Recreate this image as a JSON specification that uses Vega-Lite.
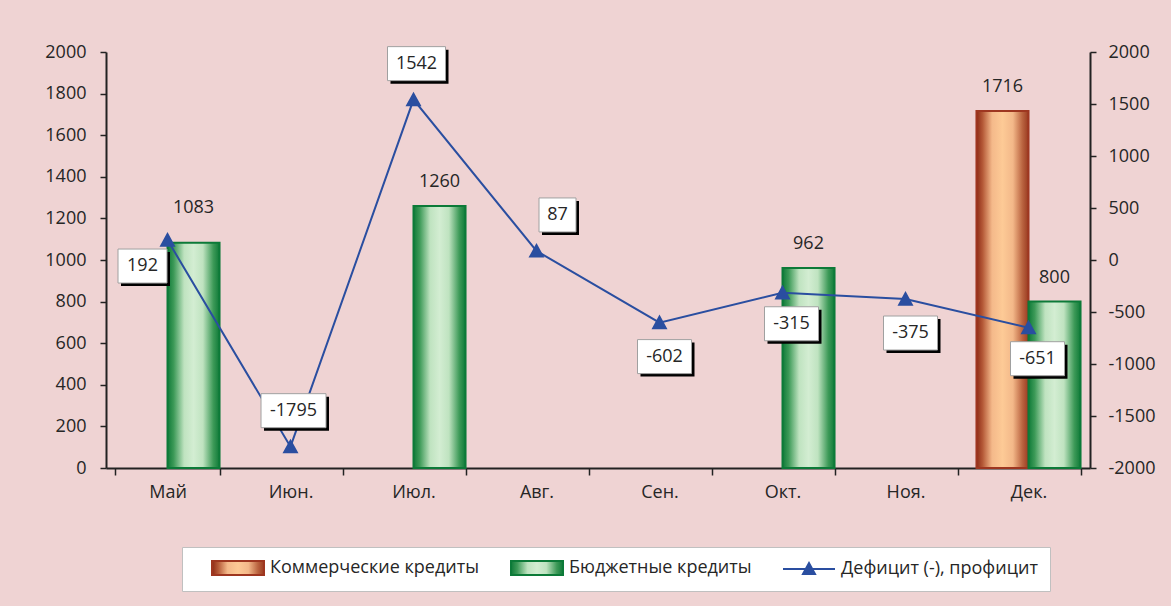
{
  "$schema": "https://vega.github.io/schema/vega-lite/v6.json",
  "width": 984,
  "height": 416,
  "autosize": {"type": "none"},
  "padding": {"left": 106, "top": 52, "right": 81, "bottom": 138},
  "background": "#efd3d3",
  "config": {
    "view": {"stroke": null},
    "font": "Open Sans",
    "locale": {"number": {"decimal": ".", "thousands": "", "grouping": [3], "currency": ["", ""], "minus": "-"}},
    "axis": {
      "domainColor": "#222222",
      "domainWidth": 2,
      "tickColor": "#222222",
      "tickWidth": 1.5,
      "labelColor": "#262626",
      "labelFont": "Open Sans",
      "labelFontSize": 18,
      "grid": false,
      "title": null
    },
    "legend": {
      "orient": "none",
      "legendX": 76,
      "legendY": 495,
      "direction": "horizontal",
      "title": null,
      "fillColor": "#ffffff",
      "strokeColor": "#c0c0c0",
      "padding": 12,
      "symbolSize": 4,
      "symbolOffset": 35,
      "symbolStrokeWidth": 2,
      "labelOffset": 23,
      "columnPadding": 13,
      "labelFont": "Open Sans",
      "labelFontSize": 18,
      "labelColor": "#262626",
      "labelLimit": 400
    }
  },
  "datasets": {
    "credits": [
      {"month": "Май", "series": "Бюджетные кредиты", "value": 1083},
      {"month": "Июл.", "series": "Бюджетные кредиты", "value": 1260},
      {"month": "Окт.", "series": "Бюджетные кредиты", "value": 962},
      {"month": "Дек.", "series": "Коммерческие кредиты", "value": 1716},
      {"month": "Дек.", "series": "Бюджетные кредиты", "value": 800}
    ],
    "balance": [
      {"month": "Май", "series": "Дефицит (-), профицит", "deficit": 192},
      {"month": "Июн.", "series": "Дефицит (-), профицит", "deficit": -1795},
      {"month": "Июл.", "series": "Дефицит (-), профицит", "deficit": 1542},
      {"month": "Авг.", "series": "Дефицит (-), профицит", "deficit": 87},
      {"month": "Сен.", "series": "Дефицит (-), профицит", "deficit": -602},
      {"month": "Окт.", "series": "Дефицит (-), профицит", "deficit": -315},
      {"month": "Ноя.", "series": "Дефицит (-), профицит", "deficit": -375},
      {"month": "Дек.", "series": "Дефицит (-), профицит", "deficit": -651}
    ]
  },
  "encoding": {
    "x": {
      "field": "month",
      "type": "nominal",
      "sort": ["Май", "Июн.", "Июл.", "Авг.", "Сен.", "Окт.", "Ноя.", "Дек."],
      "scale": {
        "domain": ["Май", "Июн.", "Июл.", "Авг.", "Сен.", "Окт.", "Ноя.", "Дек."],
        "paddingInner": 0.154,
        "paddingOuter": 0.077
      },
      "axis": {"labelAngle": 0, "tickBand": "extent", "tickSize": 7, "labelPadding": 8, "title": null}
    }
  },
  "layer": [
    {
      "data": {"name": "credits"},
      "encoding": {
        "y": {
          "field": "value",
          "type": "quantitative",
          "scale": {"domain": [0, 2000], "nice": false},
          "axis": {
            "orient": "left",
            "values": [0, 200, 400, 600, 800, 1000, 1200, 1400, 1600, 1800, 2000],
            "format": "d",
            "tickSize": 6,
            "labelPadding": 14,
            "title": null,
            "encode": {"ticks": {"x": {"value": 6}}}
          }
        },
        "xOffset": {
          "field": "series",
          "type": "nominal",
          "scale": {"domain": ["Коммерческие кредиты", "Бюджетные кредиты"], "paddingInner": 0, "paddingOuter": 0}
        }
      },
      "layer": [
        {
          "mark": {"type": "bar", "opacity": 1, "strokeWidth": 2},
          "encoding": {
            "fill": {
              "field": "series",
              "type": "nominal",
              "scale": {
                "domain": ["Коммерческие кредиты", "Бюджетные кредиты", "Дефицит (-), профицит"],
                "range": [
                  {"expr": "{gradient: 'linear', x1: 0, y1: 0, x2: 1, y2: 0, stops: [{offset: 0, color: '#8e2a15'}, {offset: 0.12, color: '#b55a38'}, {offset: 0.3, color: '#f4b98a'}, {offset: 0.5, color: '#fdca96'}, {offset: 0.7, color: '#f3b889'}, {offset: 0.88, color: '#bb6541'}, {offset: 1, color: '#9a3a20'}]}"},
                  {"expr": "{gradient: 'linear', x1: 0, y1: 0, x2: 1, y2: 0, stops: [{offset: 0, color: '#0f7a38'}, {offset: 0.12, color: '#3d9a58'}, {offset: 0.32, color: '#bfe3c0'}, {offset: 0.5, color: '#d3edd2'}, {offset: 0.68, color: '#bfe3c0'}, {offset: 0.88, color: '#3d9a58'}, {offset: 1, color: '#0f7a38'}]}"},
                  "#2a4ea0"
                ]
              }
            },
            "stroke": {
              "field": "series",
              "type": "nominal",
              "scale": {
                "domain": ["Коммерческие кредиты", "Бюджетные кредиты", "Дефицит (-), профицит"],
                "range": ["#9e3620", "#0c7a38", "#2a4ea0"]
              }
            }
          }
        },
        {
          "transform": [{"filter": "datum.month !== 'Май'"}],
          "mark": {"type": "text", "dy": -24, "fontSize": 18, "color": "#262626", "baseline": "middle", "align": "center"},
          "encoding": {"text": {"field": "value", "type": "quantitative", "format": "d"}}
        },
        {
          "transform": [{"filter": "datum.month === 'Май'"}],
          "mark": {"type": "text", "dy": -35, "fontSize": 18, "color": "#262626", "baseline": "middle", "align": "center"},
          "encoding": {"text": {"field": "value", "type": "quantitative", "format": "d"}}
        }
      ]
    },
    {
      "data": {"name": "balance"},
      "encoding": {
        "y": {
          "field": "deficit",
          "type": "quantitative",
          "scale": {"domain": [-2000, 2000], "nice": false},
          "axis": {
            "orient": "right",
            "values": [-2000, -1500, -1000, -500, 0, 500, 1000, 1500, 2000],
            "format": "d",
            "tickSize": 6,
            "labelPadding": 12,
            "title": null,
            "encode": {"ticks": {"x": {"value": -6}}}
          }
        }
      },
      "layer": [
        {
          "mark": {"type": "line", "strokeWidth": 2, "opacity": 1},
          "encoding": {
            "stroke": {"field": "series", "type": "nominal"}
          }
        },
        {
          "mark": {"type": "point", "filled": true, "size": 7.1, "opacity": 1, "strokeWidth": 0},
          "encoding": {
            "fill": {"field": "series", "type": "nominal"},
            "shape": {
              "field": "series",
              "type": "nominal",
              "scale": {
                "domain": ["Коммерческие кредиты", "Бюджетные кредиты", "Дефицит (-), профицит"],
                "range": ["M-26 -7H26V7H-26Z", "M-26 -7H26V7H-26Z", "M-26 0H26M-6 5L0 -6L6 5Z"]
              }
            }
          }
        },
        {
          "mark": {"type": "point", "filled": true, "size": 4, "opacity": 1, "color": "#000000", "strokeWidth": 0},
          "encoding": {
            "shape": {
              "condition": [
                {"test": "datum.month === 'Май'", "value": "M-46.5 12H2.5V46H-46.5Z"},
                {"test": "datum.month === 'Июн.'", "value": "M-26.5 -50H38.5V-16H-26.5Z"},
                {"test": "datum.month === 'Июл.'", "value": "M-23 -50H35V-16H-23Z"},
                {"test": "datum.month === 'Авг.'", "value": "M5.5 -50H42.5V-16H5.5Z"},
                {"test": "datum.month === 'Сен.' || datum.month === 'Ноя.'", "value": "M-19 20H35V54H-19Z"}
              ],
              "value": "M-15 17H39V51H-15Z"
            }
          }
        },
        {
          "mark": {"type": "point", "filled": true, "size": 4, "opacity": 1, "fill": "#ffffff", "stroke": "#a0a0a0", "strokeWidth": 1},
          "encoding": {
            "shape": {
              "condition": [
                {"test": "datum.month === 'Май'", "value": "M-49.5 9H-0.5V43H-49.5Z"},
                {"test": "datum.month === 'Июн.'", "value": "M-29.5 -53H35.5V-19H-29.5Z"},
                {"test": "datum.month === 'Июл.'", "value": "M-26 -53H32V-19H-26Z"},
                {"test": "datum.month === 'Авг.'", "value": "M2.5 -53H39.5V-19H2.5Z"},
                {"test": "datum.month === 'Сен.' || datum.month === 'Ноя.'", "value": "M-22 17H32V51H-22Z"}
              ],
              "value": "M-18 14H36V48H-18Z"
            }
          }
        },
        {
          "transform": [{"filter": "datum.month === 'Май'"}],
          "mark": {"type": "text", "dx": -25, "dy": 26, "fontSize": 18, "color": "#262626", "baseline": "middle", "align": "center"},
          "encoding": {"text": {"field": "deficit", "type": "quantitative", "format": "d"}}
        },
        {
          "transform": [{"filter": "datum.month === 'Июн.' || datum.month === 'Июл.'"}],
          "mark": {"type": "text", "dx": 3, "dy": -36, "fontSize": 18, "color": "#262626", "baseline": "middle", "align": "center"},
          "encoding": {"text": {"field": "deficit", "type": "quantitative", "format": "d"}}
        },
        {
          "transform": [{"filter": "datum.month === 'Авг.'"}],
          "mark": {"type": "text", "dx": 21, "dy": -36, "fontSize": 18, "color": "#262626", "baseline": "middle", "align": "center"},
          "encoding": {"text": {"field": "deficit", "type": "quantitative", "format": "d"}}
        },
        {
          "transform": [{"filter": "datum.month === 'Сен.' || datum.month === 'Ноя.'"}],
          "mark": {"type": "text", "dx": 5, "dy": 34, "fontSize": 18, "color": "#262626", "baseline": "middle", "align": "center"},
          "encoding": {"text": {"field": "deficit", "type": "quantitative", "format": "d"}}
        },
        {
          "transform": [{"filter": "datum.month === 'Окт.' || datum.month === 'Дек.'"}],
          "mark": {"type": "text", "dx": 9, "dy": 31, "fontSize": 18, "color": "#262626", "baseline": "middle", "align": "center"},
          "encoding": {"text": {"field": "deficit", "type": "quantitative", "format": "d"}}
        }
      ]
    }
  ],
  "resolve": {"scale": {"y": "independent"}}
}
